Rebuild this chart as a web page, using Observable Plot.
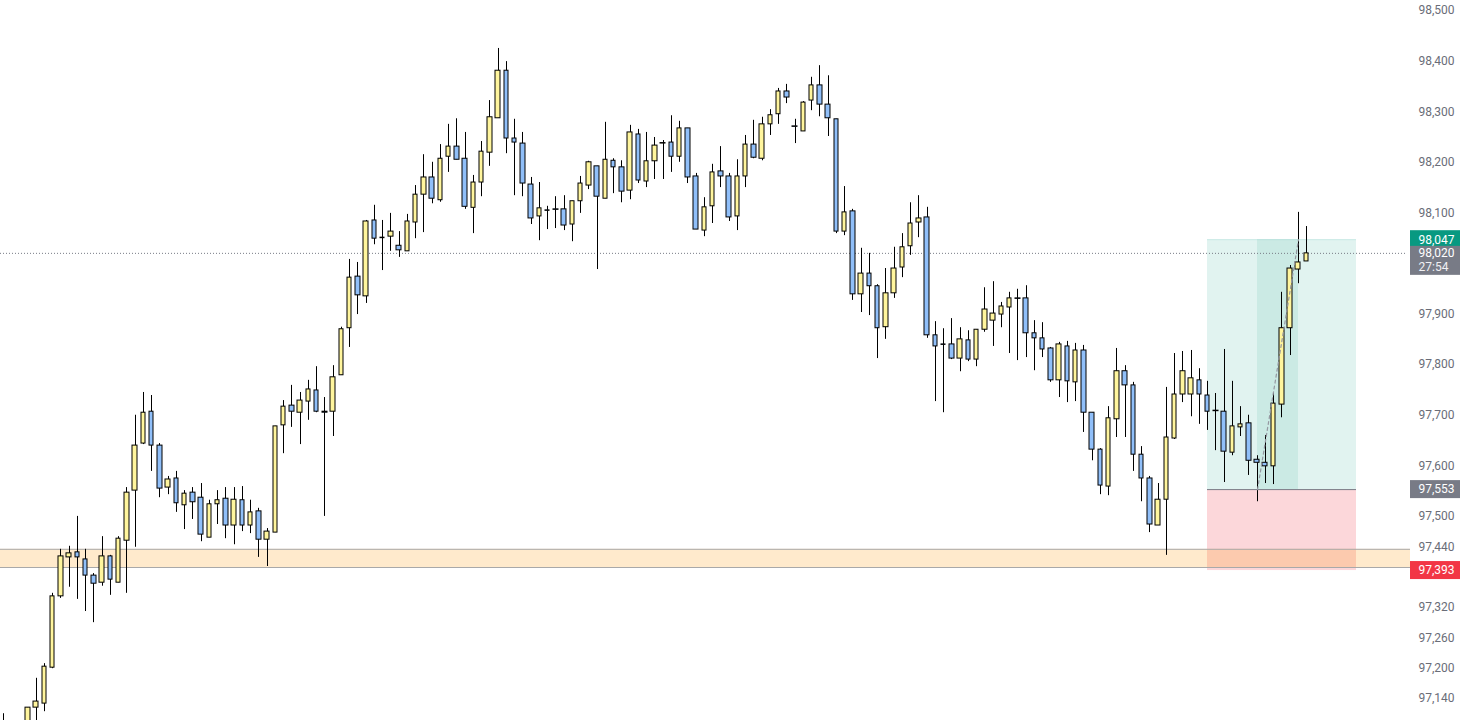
<!DOCTYPE html>
<html><head><meta charset="utf-8">
<script src="https://cdn.jsdelivr.net/npm/d3@7"></script>
<script src="https://cdn.jsdelivr.net/npm/@observablehq/plot@0.6"></script>
<style>html,body{margin:0;padding:0;background:#fff;overflow:hidden}#chart{width:1460px;height:720px}</style>
</head><body><div id="chart"></div>
<script>
// ---- data ----
const opens = [97087,97047,97018,97077,97122,97130,97201,97342,97419,97429,97415,97383,97369,97421,97369,97452,97551,97644,97707,97640,
97557,97575,97522,97547,97537,97458,97524,97535,97482,97532,97482,97510,97454,97468,97680,97719,97705,97727,97749,97707,
97707,97779,97872,97974,97935,98085,98051,98053,98035,98024,98081,98136,98170,98125,98211,98231,98207,98110,98160,98219,
98287,98381,98247,98237,98156,98093,98105,98107,98107,98077,98123,98154,98192,98128,98203,98190,98144,98255,98162,98202,
98237,98239,98211,98267,98172,98065,98113,98182,98172,98093,98172,98235,98207,98275,98295,98340,98271,98261,98322,98352,
98314,98285,98063,98103,97939,97980,97955,97874,97941,97992,98034,98081,98091,97858,97840,97840,97812,97848,97810,97869,
97887,97899,97913,97931,97931,97862,97852,97832,97769,97836,97765,97828,97705,97632,97559,97692,97787,97759,97622,97575,
97482,97533,97654,97741,97741,97769,97739,97709,97707,97626,97676,97684,97612,97606,97599,97721,97872,97988,98004];
const highs = [97110,97087,97093,97122,97180,97209,97348,97435,97441,97500,97435,97387,97460,97423,97460,97557,97700,97745,97739,97644,
97579,97589,97551,97557,97565,97532,97551,97557,97557,97559,97532,97516,97476,97678,97729,97759,97745,97769,97796,97735,
97798,97874,98008,98002,98085,98115,98085,98099,98063,98097,98154,98215,98200,98235,98275,98286,98259,98174,98241,98322,
98425,98399,98285,98259,98170,98160,98113,98132,98134,98123,98172,98202,98192,98279,98207,98203,98273,98265,98259,98249,
98243,98292,98281,98267,98178,98130,98196,98231,98178,98205,98253,98283,98289,98304,98346,98354,98285,98320,98368,98391,
98371,98285,98152,98107,98030,98020,97958,97990,98032,98059,98120,98134,98111,97885,97871,97891,97873,97867,97869,97952,
97964,97923,97943,97949,97956,97887,97883,97834,97844,97846,97842,97838,97705,97634,97717,97832,97798,97765,97638,97579,
97565,97755,97822,97826,97828,97792,97767,97743,97830,97767,97717,97700,97620,97660,97743,97943,97996,98101,98073];
const lows = [97047,96998,97008,97067,97093,97114,97199,97338,97360,97336,97312,97290,97362,97344,97369,97348,97439,97642,97589,97537,
97543,97508,97474,97494,97450,97458,97484,97456,97444,97470,97466,97419,97401,97468,97624,97676,97642,97690,97705,97500,
97658,97779,97834,97899,97921,98037,97986,98024,98012,98024,98049,98061,98118,98121,98180,98205,98107,98059,98132,98192,
98287,98217,98134,98132,98077,98045,98067,98069,98065,98043,98099,98146,97988,98128,98138,98120,98126,98158,98150,98166,
98166,98180,98200,98158,98067,98053,98079,98150,98083,98065,98150,98207,98203,98253,98275,98316,98237,98261,98302,98290,
98251,98059,98055,97927,97903,97897,97812,97850,97931,97972,98016,98051,97852,97727,97705,97810,97786,97806,97796,97864,
97836,97873,97822,97808,97814,97788,97814,97765,97735,97725,97727,97666,97610,97543,97541,97656,97656,97589,97529,97468,
97482,97423,97652,97725,97697,97682,97670,97630,97567,97620,97658,97581,97529,97565,97563,97695,97818,97960,98004];
const closes = [97057,97018,97067,97122,97134,97203,97342,97421,97427,97419,97383,97367,97421,97375,97456,97547,97640,97705,97640,97555,
97573,97526,97545,97528,97464,97524,97532,97482,97533,97482,97508,97454,97470,97678,97717,97707,97729,97751,97707,97705,
97775,97870,97972,97937,98083,98049,98050,98063,98026,98083,98136,98170,98128,98207,98231,98205,98112,98160,98221,98289,
98381,98247,98239,98158,98089,98109,98104,98106,98075,98123,98158,98200,98132,98205,98190,98142,98259,98164,98202,98233,
98238,98211,98267,98170,98067,98111,98180,98172,98091,98172,98235,98209,98275,98293,98340,98328,98270,98318,98352,98314,
98287,98063,98101,97939,97980,97955,97872,97941,97990,98032,98079,98089,97858,97836,97839,97812,97850,97810,97869,97909,
97901,97915,97931,97930,97862,97852,97830,97769,97840,97767,97828,97705,97632,97561,97694,97787,97759,97622,97575,97484,
97533,97656,97741,97787,97773,97741,97707,97708,97628,97678,97682,97610,97606,97599,97723,97872,97990,98002,98020];

// visible axis ticks (98,000 and 97,380 are hidden behind price labels in the reference)
const yTicks = [98500,98400,98300,98200,98100,97900,97800,97700,97600,97500,97440,97320,97260,97200,97140];
const lastPrice = 98020, countdown = "27:54";
const targetPrice = 98047, entryPrice = 97553, stopPrice = 97393;
const posStart = 146, posEnd = 164, activeStart = 152, activeEnd = 157;
const zoneLow = 97399, zoneHigh = 97435;

// ---- scales / layout ----
const W = 1460, H = 720, MR = 50;
const xDomain = [-0.32, 170.6], yDomain = [97096.6, 98519.8];
const ux = (xDomain[1] - xDomain[0]) / (W - MR);  // data units per px
const uy = (yDomain[1] - yDomain[0]) / H;
const xEnd = xDomain[1];

const bars = opens.map((o, i) => ({i, o, h: highs[i], l: lows[i], c: closes[i]}));
const fmt = d3.format(",");

const labels = [
  {p: targetPrice, t: fmt(targetPrice), fill: "#089981", top: 9, bot: 9},
  {p: entryPrice, t: fmt(entryPrice), fill: "#787b86", top: 9, bot: 9},
  {p: stopPrice, t: fmt(stopPrice), fill: "#f23645", top: 9, bot: 9},
  {p: lastPrice, t: fmt(lastPrice), fill: "#787b86", top: 7, bot: 22}
];

const chart = Plot.plot({
  width: W, height: H,
  marginLeft: 0, marginRight: MR, marginTop: 0, marginBottom: 0,
  x: {type: "linear", domain: xDomain, round: true, axis: null},
  y: {domain: yDomain, axis: null},
  style: {fontFamily: "Roboto, 'Liberation Sans', sans-serif", fontSize: "12px", background: "#fff", color: "#6a6d78"},
  marks: [
    // long position tool
    Plot.rect([0], {x1: posStart, x2: posEnd, y1: entryPrice, y2: targetPrice, fill: "rgba(8,153,129,0.12)"}),
    Plot.rect([0], {x1: activeStart, x2: activeEnd, y1: entryPrice, y2: targetPrice, fill: "rgba(8,153,129,0.10)"}),
    Plot.rect([0], {x1: posStart, x2: posEnd, y1: stopPrice, y2: entryPrice, fill: "rgba(242,54,69,0.2)"}),
    Plot.ruleY([targetPrice], {x1: posStart, x2: posEnd, stroke: "rgba(8,153,129,0.12)"}),
    Plot.ruleY([entryPrice], {x1: posStart, x2: posEnd, stroke: "#787b86"}),
    // horizontal zone
    Plot.rect([0], {x1: xDomain[0], x2: xEnd, y1: zoneLow, y2: zoneHigh, fill: "rgba(255,152,0,0.2)"}),
    Plot.ruleY([zoneLow, zoneHigh], {x1: xDomain[0], x2: xEnd, stroke: "#a9a9a9"}),
    // last price dotted line
    Plot.ruleY([lastPrice], {x1: xDomain[0], x2: xEnd - 0.6, stroke: "#787b86", strokeDasharray: "1,2"}),
    // candles
    Plot.ruleX(bars, {x: "i", y1: "l", y2: "h", stroke: "#000", strokeWidth: 1, clip: true}),
    Plot.rect(bars, {x1: d => d.i - 0.28, x2: d => d.i + 0.28, y1: "o", y2: "c",
      fill: d => d.c >= d.o ? "#fff59d" : "#90bff9", stroke: "#000", strokeWidth: 1, clip: true}),
    // trade path
    Plot.line([{x: activeStart, y: entryPrice}, {x: activeEnd, y: targetPrice}],
      {x: "x", y: "y", stroke: "#9598a1", strokeWidth: 1.2, strokeDasharray: "3,3"}),
    // price axis
    Plot.axisY(yTicks, {anchor: "right", tickSize: 0, tickPadding: 8, tickFormat: fmt, label: null, fontSize: 12, color: "#6a6d78"}),
    // price labels
    Plot.rect(labels, {x1: xEnd, x2: xEnd + MR * ux, y1: d => d.p - d.bot * uy, y2: d => d.p + d.top * uy, fill: "fill"}),
    Plot.text(labels, {x: xEnd + 8 * ux, y: "p", text: "t", fill: "#fff", textAnchor: "start", fontSize: 12}),
    Plot.text([countdown], {x: xEnd + 8 * ux, y: lastPrice - 14 * uy, text: d => d, fill: "#f0f0f3", textAnchor: "start", fontSize: 12})
  ]
});
document.getElementById("chart").append(chart);
</script>
</body></html>
